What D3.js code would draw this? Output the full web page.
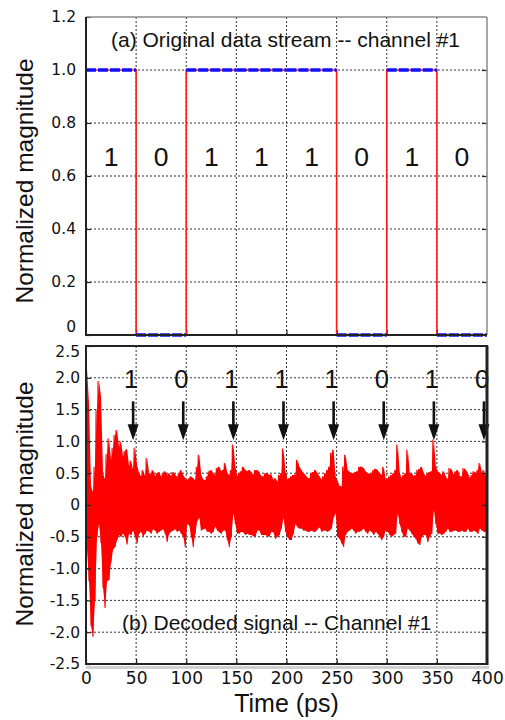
<!DOCTYPE html>
<html>
<head>
<meta charset="utf-8">
<script src="https://cdn.jsdelivr.net/npm/d3@7"></script>
<style>
  body { margin: 0; background: #fff; }
  svg { display: block; }
</style>
</head>
<body>
<div id="chart"></div>
<script>
// ---- data ----
const bits = [1, 0, 1, 1, 1, 0, 1, 0];
const bitPeriod = 50; // ps
const xTicks = [0, 50, 100, 150, 200, 250, 300, 350, 400];
const topTicks = [0, 0.2, 0.4, 0.6, 0.8, 1.0, 1.2];
const bottomTicks = [-2.5, -2.0, -1.5, -1.0, -0.5, 0, 0.5, 1.0, 1.5, 2.0, 2.5];

// decoded signal, sampled every 2 ps: upper and lower excursions
const noiseStep = 2;
const noiseHi = [
  2.15, 1.6, 0.3, 0.2, 0.6, 1.5, 1.95, 1.7, 0.5, 0.4,
  0.8, 1.05, 0.7, 0.9, 1.1, 1.18, 0.9, 1.0, 0.75, 0.85,
  0.88, 0.6, 0.7, 0.55, 0.9, 0.62, 0.5, 0.45, 0.55, 0.45,
  0.74, 0.5, 0.48, 0.55, 0.45, 0.5, 0.52, 0.44, 0.5, 0.53,
  0.47, 0.5, 0.45, 0.52, 0.48, 0.44, 0.5, 0.55, 0.47, 0.42,
  0.39, 0.42, 0.45, 0.42, 0.39, 0.6, 0.79, 0.47, 0.4, 0.39,
  0.45, 0.53, 0.55, 0.5, 0.47, 0.58, 0.6, 0.53, 0.55, 0.66,
  0.5, 0.47, 0.55, 0.95, 0.6, 0.45, 0.5, 0.53, 0.6, 0.55,
  0.53, 0.55, 0.52, 0.47, 0.55, 0.55, 0.52, 0.45, 0.45, 0.5,
  0.5, 0.47, 0.48, 0.39, 0.42, 0.36, 0.47, 0.5, 0.89, 0.53,
  0.4, 0.42, 0.45, 0.47, 0.48, 0.71, 0.6, 0.55, 0.5, 0.47,
  0.43, 0.42, 0.5, 0.52, 0.55, 0.5, 0.45, 0.4, 0.45, 0.5,
  0.55, 0.6, 0.82, 0.87, 0.45, 0.38, 0.3, 0.29, 0.6, 0.79,
  0.55, 0.52, 0.5, 0.5, 0.52, 0.53, 0.6, 0.6, 0.58, 0.53,
  0.5, 0.49, 0.5, 0.55, 0.57, 0.55, 0.5, 0.47, 0.6, 0.4,
  0.42, 0.45, 0.47, 0.5, 0.55, 0.95, 0.5, 0.42, 0.47, 0.5,
  0.87, 0.5, 0.5, 0.45, 0.47, 0.55, 0.57, 0.6, 0.5, 0.45,
  0.5, 0.52, 0.53, 1.03, 0.6, 0.53, 0.5, 0.47, 0.53, 0.45,
  0.4, 0.58, 0.55, 0.47, 0.53, 0.55, 0.45, 0.45, 0.58, 0.55,
  0.5, 0.42, 0.47, 0.53, 0.5, 0.55, 0.66, 0.5, 0.55, 0.45
];
const noiseLo = [
  -0.7, -1.2, -1.9, -2.07, -1.5, -0.5, -0.3, -0.6, -1.3, -1.62,
  -1.2, -1.18, -0.9, -0.7, -0.66, -0.55, -0.47, -0.5, -0.45, -0.5,
  -0.62, -0.45, -0.47, -0.4, -0.5, -0.6, -0.45, -0.42, -0.5, -0.45,
  -0.4, -0.42, -0.45, -0.38, -0.4, -0.45, -0.42, -0.4, -0.38, -0.45,
  -0.58, -0.45, -0.42, -0.4, -0.38, -0.42, -0.4, -0.45, -0.5, -0.66,
  -0.3, -0.32, -0.5, -0.66, -0.45, -0.25, -0.2, -0.4, -0.38, -0.37,
  -0.42, -0.42, -0.45, -0.42, -0.34, -0.4, -0.43, -0.45, -0.4, -0.4,
  -0.55, -0.66, -0.5, -0.13, -0.3, -0.45, -0.45, -0.42, -0.43, -0.47,
  -0.45, -0.47, -0.47, -0.49, -0.5, -0.4, -0.4, -0.47, -0.47, -0.47,
  -0.49, -0.5, -0.42, -0.43, -0.53, -0.5, -0.47, -0.37, -0.2, -0.42,
  -0.5, -0.55, -0.55, -0.45, -0.3, -0.35, -0.37, -0.37, -0.4, -0.4,
  -0.42, -0.42, -0.4, -0.42, -0.42, -0.38, -0.35, -0.42, -0.4, -0.4,
  -0.42, -0.4, -0.37, -0.2, -0.13, -0.5, -0.53, -0.6, -0.66, -0.47,
  -0.42, -0.4, -0.37, -0.4, -0.45, -0.42, -0.42, -0.4, -0.37, -0.42,
  -0.45, -0.4, -0.42, -0.47, -0.42, -0.45, -0.5, -0.55, -0.5, -0.4,
  -0.42, -0.47, -0.5, -0.47, -0.45, -0.13, -0.3, -0.42, -0.5, -0.5,
  -0.37, -0.4, -0.45, -0.5, -0.53, -0.6, -0.63, -0.5, -0.47, -0.47,
  -0.58, -0.5, -0.45, -0.08, -0.3, -0.45, -0.45, -0.47, -0.45, -0.42,
  -0.37, -0.42, -0.42, -0.4, -0.4, -0.42, -0.42, -0.4, -0.42, -0.42,
  -0.37, -0.42, -0.42, -0.4, -0.42, -0.45, -0.37, -0.4, -0.42, -0.42
];

// arrows above the decoded signal (value range) and their shift from the bit edge
const arrowFrom = 1.63, arrowHead = 1.27, arrowTip = 1.02, arrowShift = -3;

// ---- layout ----
const W = 505, H = 720;
const left = 86, right = 487;
const sans = "'Liberation Sans', Arial, sans-serif";
const tickFont = "'DejaVu Sans', sans-serif";

const svg = d3.select("#chart").append("svg")
  .attr("width", W).attr("height", H);

const x = d3.scaleLinear().domain([0, 400]).range([left, right]);
const yTop = d3.scaleLinear().domain([0, 1.2]).range([335, 17]);
const yBot = d3.scaleLinear().domain([-2.5, 2.5]).range([664, 346]);

function grid(g, y, yVals) {
  g.selectAll(".hg").data(yVals).enter().append("line")
    .attr("x1", left).attr("x2", right)
    .attr("y1", d => y(d)).attr("y2", d => y(d))
    .attr("stroke", "#333").attr("stroke-width", 1)
    .attr("stroke-dasharray", "2,2");
  g.selectAll(".vg").data(xTicks.slice(1, -1)).enter().append("line")
    .attr("x1", d => x(d)).attr("x2", d => x(d))
    .attr("y1", y.range()[0]).attr("y2", y.range()[1])
    .attr("stroke", "#333").attr("stroke-width", 1)
    .attr("stroke-dasharray", "2,2");
}

function styleAxis(g) {
  g.select(".domain").remove();
  g.selectAll(".tick line").attr("stroke", "#222").attr("stroke-width", 1.2);
  g.selectAll(".tick text").attr("font-family", tickFont)
    .attr("font-size", 15.5).attr("fill", "#111");
}

// ================= top panel =================
const topG = svg.append("g");
grid(topG, yTop, [0.2, 0.4, 0.6, 0.8, 1.0]);

topG.append("g").attr("transform", `translate(${left},0)`)
  .call(d3.axisLeft(yTop).tickValues(topTicks).tickSizeInner(-5).tickSizeOuter(0).tickPadding(10)
    .tickFormat(d => d === 0 ? "0" : d3.format(".1f")(d)))
  .call(styleAxis)
  .call(g => g.selectAll(".tick text").filter(d => d === 0).attr("y", -8));
topG.append("g").attr("transform", `translate(${right},0)`)
  .call(d3.axisRight(yTop).tickValues(topTicks.slice(1, -1)).tickSizeInner(-5).tickSizeOuter(0).tickFormat(""))
  .call(styleAxis);
topG.append("g").attr("transform", `translate(0,${yTop(0)})`)
  .call(d3.axisBottom(x).tickValues(xTicks.slice(1, -1)).tickSizeInner(-5).tickSizeOuter(0).tickFormat(""))
  .call(styleAxis);

// square wave
const wavePts = bits.map((b, i) => [i * bitPeriod, b]).concat([[bits.length * bitPeriod, bits[bits.length - 1]]]);
topG.append("path")
  .attr("d", d3.line().x(d => x(d[0])).y(d => yTop(d[1])).curve(d3.curveStepAfter)(wavePts))
  .attr("fill", "none").attr("stroke", "#ff1a1a").attr("stroke-width", 1.6);

// blue dashed levels
topG.selectAll(".lvl").data(bits).enter().append("line")
  .attr("x1", (d, i) => x(i * bitPeriod)).attr("x2", (d, i) => x((i + 1) * bitPeriod))
  .attr("y1", d => yTop(d)).attr("y2", d => yTop(d))
  .attr("stroke", "#1010ff").attr("stroke-width", 3.6)
  .attr("stroke-dasharray", "10,2");

// bit labels
topG.selectAll(".bit").data(bits).enter().append("text")
  .attr("x", (d, i) => x(i * bitPeriod + bitPeriod / 2))
  .attr("y", 166)
  .attr("text-anchor", "middle")
  .attr("font-family", sans).attr("font-size", 26.5).attr("fill", "#111")
  .text(d => d);

topG.append("text")
  .attr("x", 111).attr("y", 46.5)
  .attr("font-family", sans).attr("font-size", 21).attr("fill", "#111")
  .text("(a) Original data stream -- channel #1");

// frame
topG.append("line").attr("x1", left).attr("x2", right).attr("y1", 17).attr("y2", 17)
  .attr("stroke", "#8a8a8a").attr("stroke-width", 1.5);
topG.append("line").attr("x1", right).attr("x2", right).attr("y1", 17).attr("y2", 335)
  .attr("stroke", "#8a8a8a").attr("stroke-width", 1.5);
topG.append("line").attr("x1", left).attr("x2", left).attr("y1", 17).attr("y2", 336)
  .attr("stroke", "#222").attr("stroke-width", 2);
topG.append("line").attr("x1", left).attr("x2", right).attr("y1", 335).attr("y2", 335)
  .attr("stroke", "#222").attr("stroke-width", 2);

topG.append("text")
  .attr("transform", "translate(33,181) rotate(-90)")
  .attr("text-anchor", "middle")
  .attr("font-family", sans).attr("font-size", 24.5).attr("fill", "#111")
  .text("Normalized magnitude");

// ================= bottom panel =================
const botG = svg.append("g");
grid(botG, yBot, [-2.0, -1.5, -1.0, -0.5, 0, 0.5, 1.0, 1.5, 2.0]);

svg.append("clipPath").attr("id", "clipBot").append("rect")
  .attr("x", left).attr("y", 346).attr("width", right - left).attr("height", 664 - 346);

// solid core of the band, then the zig-zag trace over it
const noiseIdx = d3.range(noiseHi.length);
botG.append("path")
  .attr("clip-path", "url(#clipBot)")
  .attr("d", d3.area()
    .x(i => x(i * noiseStep + noiseStep / 2))
    .y0(i => yBot(noiseLo[i]))
    .y1(i => yBot(noiseHi[i]))(noiseIdx))
  .attr("fill", "#ff0000");

const noisePts = [];
noiseHi.forEach((h, i) => {
  noisePts.push([i * noiseStep, h]);
  noisePts.push([i * noiseStep + noiseStep / 2, noiseLo[i]]);
});
botG.append("path")
  .attr("clip-path", "url(#clipBot)")
  .attr("d", d3.line().x(d => x(d[0])).y(d => yBot(d[1]))(noisePts))
  .attr("fill", "none").attr("stroke", "#ff0000").attr("stroke-width", 1.1);

botG.append("g").attr("transform", `translate(${left},0)`)
  .call(d3.axisLeft(yBot).tickValues(bottomTicks).tickSizeInner(-5).tickSizeOuter(0).tickPadding(6)
    .tickFormat(d => d === 0 ? "0" : d3.format(".1f")(d).replace("−", "-")))
  .call(styleAxis)
  .call(g => g.selectAll(".tick text").filter(d => d === 2.5).attr("y", 6));
botG.append("g").attr("transform", `translate(${right},0)`)
  .call(d3.axisRight(yBot).tickValues(bottomTicks.slice(1, -1)).tickSizeInner(-5).tickSizeOuter(0).tickFormat(""))
  .call(styleAxis);
botG.append("g").attr("transform", `translate(0,${yBot(-2.5)})`)
  .call(d3.axisBottom(x).tickValues(xTicks).tickSizeInner(-5).tickSizeOuter(0).tickPadding(8))
  .call(styleAxis)
  .call(g => g.selectAll(".tick text").attr("font-size", 17).attr("dy", "0.71em"));

// arrows and bit labels
const arrowX = d => x((d + 1) * bitPeriod + arrowShift);
botG.selectAll(".shaft").data(bits).enter().append("line")
  .attr("x1", (d, i) => arrowX(i)).attr("x2", (d, i) => arrowX(i))
  .attr("y1", yBot(arrowFrom)).attr("y2", yBot(arrowHead) + 1)
  .attr("stroke", "#111").attr("stroke-width", 2.6);
botG.selectAll(".head").data(bits).enter().append("path")
  .attr("d", (d, i) => {
    const cx = arrowX(i);
    return `M${cx - 5.5},${yBot(arrowHead)}L${cx + 5.5},${yBot(arrowHead)}L${cx},${yBot(arrowTip)}Z`;
  })
  .attr("fill", "#111");
botG.selectAll(".bit").data(bits).enter().append("text")
  .attr("x", (d, i) => x((i + 1) * bitPeriod - 5))
  .attr("y", 388)
  .attr("text-anchor", "middle")
  .attr("font-family", sans).attr("font-size", 25.5).attr("fill", "#111")
  .text(d => d);

botG.append("text")
  .attr("x", 122).attr("y", 630)
  .attr("font-family", sans).attr("font-size", 21).attr("fill", "#111")
  .text("(b) Decoded signal -- Channel #1");

// frame
botG.append("rect").attr("x", left).attr("y", 666).attr("width", right - left + 2).attr("height", 3)
  .attr("fill", "#d0d0d0");
botG.append("rect").attr("x", left).attr("y", 346).attr("width", right - left).attr("height", 664 - 346)
  .attr("fill", "none").attr("stroke", "#222").attr("stroke-width", 2);
botG.append("line").attr("x1", right).attr("x2", right).attr("y1", 346).attr("y2", 665)
  .attr("stroke", "#222").attr("stroke-width", 3);

botG.append("text")
  .attr("transform", "translate(33,504) rotate(-90)")
  .attr("text-anchor", "middle")
  .attr("font-family", sans).attr("font-size", 24.5).attr("fill", "#111")
  .text("Normalized magnitude");

svg.append("text")
  .attr("x", x(200)).attr("y", 712)
  .attr("text-anchor", "middle")
  .attr("font-family", sans).attr("font-size", 25).attr("fill", "#111")
  .text("Time (ps)");
</script>
</body>
</html>
